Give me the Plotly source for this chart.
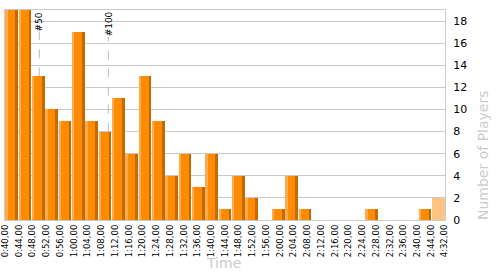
import plotly.graph_objects as go

# ---- data ----
time_labels = ["0:40,00", "0:44,00", "0:48,00", "0:52,00", "0:56,00", "1:00,00", "1:04,00",
               "1:08,00", "1:12,00", "1:16,00", "1:20,00", "1:24,00", "1:28,00", "1:32,00",
               "1:36,00", "1:40,00", "1:44,00", "1:48,00", "1:52,00", "1:56,00", "2:00,00",
               "2:04,00", "2:08,00", "2:12,00", "2:16,00", "2:20,00", "2:24,00", "2:28,00",
               "2:32,00", "2:36,00", "2:40,00", "2:44,00", "4:32,00"]
players = [19, 19, 13, 10, 9, 17, 9, 8, 11, 6, 13, 9, 4, 6, 3, 6, 1, 4, 2, 0, 1,
           4, 1, 0, 0, 0, 0, 1, 0, 0, 0, 1, 2]
outlier = [False] * 32 + [True]
rank_labels = ["#50", "#100"]
rank_bin = [2, 7]          # bin that contains the ranked player
rank_pos = [2.07, 7.25]    # position in bin units

n = len(players)
xs = list(range(n))

main_col = ["#FFC383" if o else "#FF8C00" for o in outlier]
light_col = ["#FFC383" if o else "#FFAA50" for o in outlier]
dark_col = ["#FFC383" if o else "#C46A00" for o in outlier]

fig = go.Figure()
fig.add_trace(go.Bar(x=xs, y=players, width=0.95, marker=dict(color=main_col, line_width=0),
                     hoverinfo="skip", showlegend=False))
fig.add_trace(go.Bar(x=xs, y=players, width=0.17, offset=-0.475,
                     marker=dict(color=light_col, line_width=0), hoverinfo="skip", showlegend=False))
fig.add_trace(go.Bar(x=xs, y=players, width=0.2, offset=0.275,
                     marker=dict(color=dark_col, line_width=0), hoverinfo="skip", showlegend=False))
# dummy trace for label axis
fig.add_trace(go.Scatter(x=[0, n - 1], y=[0, 0], xaxis="x2", mode="markers",
                         marker=dict(opacity=0), hoverinfo="skip", showlegend=False))

shapes = []
annotations = []
for lab, b, p in zip(rank_labels, rank_bin, rank_pos):
    top = 17.0 if lab == "#50" else 16.6
    shapes.append(dict(type="line", xref="x", yref="y", x0=p, x1=p, y0=players[b], y1=top,
                       line=dict(color="#BBBBBB", width=1, dash="dash"), layer="above"))
    annotations.append(dict(x=p + 0.05, y=17.96 if lab == "#50" else 17.7, xref="x", yref="y",
                            text=lab, showarrow=False, textangle=-90,
                            font=dict(family="DejaVu Sans", size=9, color="#000000"),
                            xanchor="center", yanchor="middle"))

annotations.append(dict(x=483, y=155, text="Number of Players",
                        showarrow=False, textangle=-90,
                        font=dict(family="DejaVu Sans", size=14, color="#CCCCCC"),
                        xanchor="center", yanchor="middle"))
annotations.append(dict(x=223, y=263, text="Time", showarrow=False,
                        font=dict(family="DejaVu Sans", size=14, color="#CCCCCC"),
                        xanchor="center", yanchor="middle"))

# convert pixel-placed annotations into paper coords
L, R, T, B = 5, 55, 10, 55
W, H = 500, 275
pw, ph = W - L - R, H - T - B
for a in annotations[-2:]:
    px, py = a["x"], a["y"]
    a["x"] = (px - L) / pw
    a["y"] = (H - B - py) / ph
    a["xref"] = "paper"
    a["yref"] = "paper"

fig.update_layout(
    width=W, height=H,
    margin=dict(l=L, r=R, t=T, b=B, pad=0, autoexpand=False),
    paper_bgcolor="white", plot_bgcolor="white",
    barmode="overlay", bargap=0,
    shapes=shapes, annotations=annotations,
    xaxis=dict(range=[-0.5, n - 0.5], showticklabels=False, ticks="", showgrid=False,
               zeroline=False, showline=True, linecolor="#CCCCCC", linewidth=1, mirror=True,
               fixedrange=True, automargin=False),
    xaxis2=dict(overlaying="x", anchor="y", side="bottom", range=[-0.02, n - 1 + 0.02],
                tickmode="array", tickvals=xs, ticktext=time_labels, tickangle=-90,
                tickfont=dict(family="DejaVu Sans", size=8.5, color="#000000"),
                ticks="", showgrid=False, zeroline=False, showline=False, ticklabelstandoff=2,
                ticklabeloverflow="allow", automargin=False),
    yaxis=dict(range=[0, 19], side="right", dtick=2, tick0=0,
               tickfont=dict(family="DejaVu Sans", size=11, color="#000000"),
               showgrid=True, gridcolor="#C8C8C8", gridwidth=1, zeroline=False,
               showline=True, linecolor="#CCCCCC", linewidth=1, mirror=True,
               ticks="", ticklabelstandoff=5, fixedrange=True, automargin=False),
    font=dict(family="DejaVu Sans"),
)

fig.write_html("out.html")
